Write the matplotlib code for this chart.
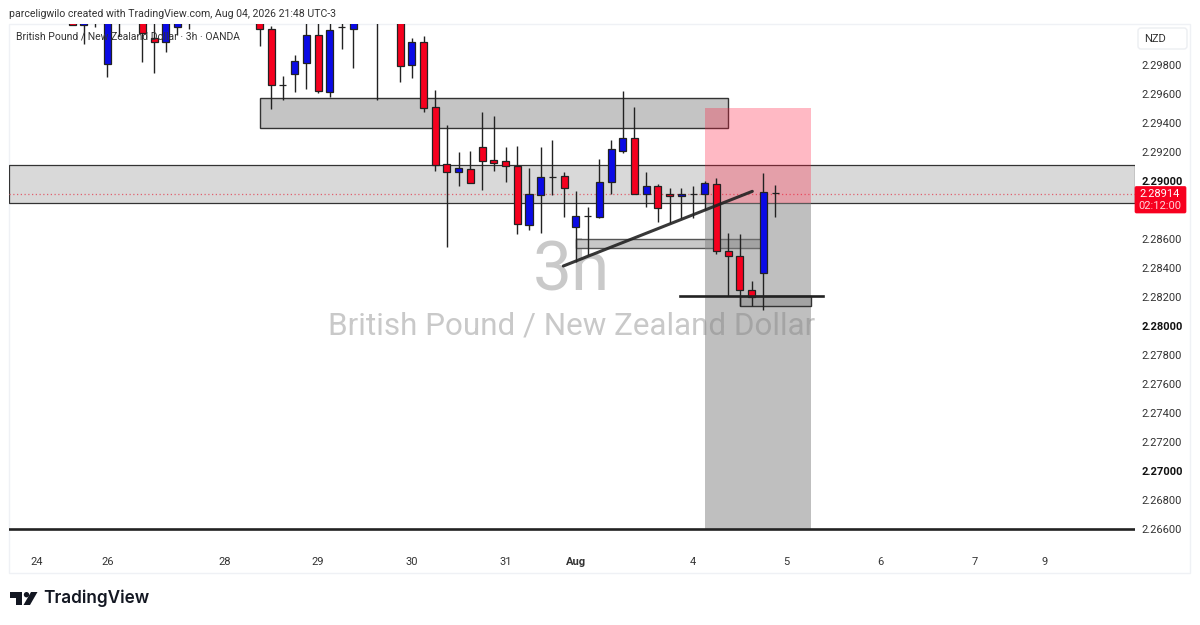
import matplotlib
matplotlib.use("Agg")
import matplotlib.pyplot as plt
from matplotlib.patches import Rectangle, FancyBboxPatch, Circle, Polygon

plt.rcParams["font.family"] = ["Roboto", "DejaVu Sans"]

# bar number, 3h candles (bars above the visible window are left out)
bar_x = [0, 1, 2, 3, 4, 6, 7, 8, 9, 10,
         16, 17, 18, 19, 20, 21, 22, 23, 24, 26,
         28, 29, 30, 31, 32, 33, 34, 35, 36, 37,
         38, 39, 40, 41, 42, 43, 44, 45, 46, 47,
         48, 49, 50, 51, 52, 53, 54, 55, 56, 57,
         58, 59, 60]
opens = [2.30100, 2.30076, 2.30110, 2.29807, 2.30100, 2.30200, 2.29986, 2.29959, 2.30062, 2.30120,
         2.30200, 2.30048, 2.29664, 2.29740, 2.29812, 2.30007, 2.29614, 2.30062, 2.30046, 2.30120,
         2.30200, 2.29802, 2.29957, 2.29512, 2.29119, 2.29064, 2.29085, 2.29232, 2.29143, 2.29136,
         2.29106, 2.28699, 2.28906, 2.29030, 2.29032, 2.28683, 2.28757, 2.28754, 2.28995, 2.29209,
         2.29297, 2.28912, 2.28966, 2.28912, 2.28895, 2.28912, 2.28910, 2.28977, 2.28515, 2.28485,
         2.28250, 2.28368, 2.28919]
highs = [2.30120, 2.30120, 2.30120, 2.30250, 2.30200, 2.30250, 2.30120, 2.30200, 2.30200, 2.30200,
         2.30250, 2.30067, 2.29724, 2.29869, 2.30150, 2.30150, 2.30150, 2.30150, 2.30200, 2.30200,
         2.30250, 2.29984, 2.30002, 2.29628, 2.29388, 2.29198, 2.29207, 2.29474, 2.29448, 2.29232,
         2.29239, 2.29088, 2.29232, 2.29281, 2.29060, 2.28929, 2.28819, 2.29154, 2.29285, 2.29623,
         2.29508, 2.29062, 2.28977, 2.28950, 2.28950, 2.28968, 2.29002, 2.29019, 2.28643, 2.28632,
         2.28312, 2.29053, 2.28972]
lows = [2.30076, 2.29945, 2.30062, 2.29717, 2.30000, 2.29821, 2.29745, 2.29890, 2.30007, 2.30048,
        2.29933, 2.29497, 2.29559, 2.29616, 2.29637, 2.29605, 2.29581, 2.29908, 2.29777, 2.29559,
        2.29685, 2.29708, 2.29478, 2.29071, 2.28547, 2.28968, 2.28984, 2.28938, 2.29071, 2.28995,
        2.28632, 2.28662, 2.28639, 2.28903, 2.28754, 2.28443, 2.28490, 2.28747, 2.28910, 2.29191,
        2.28910, 2.28819, 2.28719, 2.28708, 2.28743, 2.28743, 2.28800, 2.28495, 2.28207, 2.28140,
        2.28140, 2.28110, 2.28754]
closes = [2.30076, 2.30100, 2.30105, 2.30200, 2.30150, 2.30021, 2.29959, 2.30150, 2.30150, 2.30130,
          2.30050, 2.29662, 2.29664, 2.29826, 2.30007, 2.29621, 2.30042, 2.30062, 2.30120, 2.30130,
          2.29795, 2.29957, 2.29506, 2.29112, 2.29060, 2.29088, 2.28988, 2.29140, 2.29126, 2.29104,
          2.28701, 2.28910, 2.29026, 2.29030, 2.28952, 2.28757, 2.28757, 2.28995, 2.29219, 2.29297,
          2.28910, 2.28963, 2.28816, 2.28895, 2.28908, 2.28912, 2.28984, 2.28515, 2.28483, 2.28250,
          2.28200, 2.28924, 2.28919]

# price axis
price_ticks = [2.298, 2.296, 2.294, 2.292, 2.290, 2.286, 2.284, 2.282, 2.280,
               2.278, 2.276, 2.274, 2.272, 2.270, 2.268, 2.266]
bold_ticks = [2.290, 2.280, 2.270]

# time axis
time_ticks = [-3, 3, 13, 21, 29, 37, 43, 53, 61, 69, 77, 83]
time_labels = ["24", "26", "28", "29", "30", "31", "Aug", "4", "5", "6", "7", "9"]

last_price = 2.28914

RED = "#f5001e"
BLUE = "#0a0ae6"
DARK = "#222222"

fig = plt.figure(figsize=(12, 6.25), dpi=100, facecolor="white")

# page layer in pixels, for frame, tag and logo
page = fig.add_axes([0, 0, 1, 1], zorder=0)
page.set_xlim(0, 1200)
page.set_ylim(625, 0)
page.axis("off")
page.add_patch(Rectangle((9, 23.5), 1181, 549, fc="white", ec="#eff1f5", lw=1))

ax = fig.add_axes([9 / 1200, 1 - 545 / 625, 1126 / 1200, 521 / 625], zorder=1)
ax.patch.set_alpha(0)
ax.set_xlim(-5.38, 90.72)
ax.set_ylim(2.26490, 2.30083)
for s in ax.spines.values():
    s.set_visible(False)

# watermark
ax.text(42.6, 2.28380, "3h", fontsize=50, color="#c9c9c9", ha="center", va="center", zorder=1)
ax.text(42.6, 2.28000, "British Pound / New Zealand Dollar", fontsize=22.6, color="#c9c9c9",
        ha="center", va="center", zorder=1)

# drawings under the candles
ax.axhspan(2.28848, 2.29110, fc="#d9d9d9", ec="#333333", lw=0.9, zorder=2)
ax.add_patch(Rectangle((16, 2.29366), 40, 0.00206, fc="#c4c4c4", ec="#333333", lw=1.0, zorder=2))
ax.add_patch(Rectangle((43, 2.28536), 16, 0.00062, fc="#c8c8c8", ec="#555555", lw=1, zorder=2))
ax.axhline(last_price, color="#e0606e", lw=0.9, ls=(0, (1, 2)), zorder=2.5)

# short position tool
ax.add_patch(Rectangle((54, 2.28848), 9.07, 0.00656, fc="#ff1a3c", alpha=0.3, lw=0, zorder=3))
ax.add_patch(Rectangle((54, 2.26600), 9.07, 0.02248, fc="#808080", alpha=0.5, lw=0, zorder=3))
ax.add_patch(Rectangle((57, 2.28140), 6.07, 0.00067, fc="#a3a3a3", ec="#333333", lw=1, zorder=3.5))

# candles
ax.vlines(bar_x, lows, highs, color=DARK, lw=1.0, zorder=4)
bottoms = [min(o, c) for o, c in zip(opens, closes)]
heights = [abs(o - c) for o, c in zip(opens, closes)]
colors = [BLUE if c > o else RED for o, c in zip(opens, closes)]
ax.bar(bar_x, heights, bottom=bottoms, width=0.6, color=colors, edgecolor=DARK, lw=0.9, zorder=5)

# lines over the candles
ax.axhline(2.26600, color=DARK, lw=1.9, zorder=6)
ax.plot([51.9, 64.1], [2.28207, 2.28207], color=DARK, lw=1.9, zorder=6)
ax.plot([41.93, 58.06], [2.28414, 2.28929], color=DARK, lw=2.2, alpha=0.9,
        solid_capstyle="round", zorder=6)

# axes text
ax.yaxis.tick_right()
ax.set_yticks(price_ticks)
ax.set_yticklabels(["%.5f" % p for p in price_ticks])
for lab, p in zip(ax.get_yticklabels(), price_ticks):
    lab.set_fontsize(8)
    lab.set_color("#333333")
    if p in bold_ticks:
        lab.set_fontweight("bold")
        lab.set_color("#111111")
ax.set_xticks(time_ticks)
ax.set_xticklabels(time_labels)
for lab, name in zip(ax.get_xticklabels(), time_labels):
    lab.set_fontsize(8)
    lab.set_color("#333333")
    if name == "Aug":
        lab.set_fontweight("bold")
ax.tick_params(axis="y", length=0, pad=4.5)
ax.tick_params(axis="x", length=0, pad=8.5)

# header text
fig.text(9 / 1200, 1 - 14 / 625, "parceligwilo created with TradingView.com, Aug 04, 2026 21:48 UTC-3",
         fontsize=7.55, color="#333333", va="center", zorder=8)
fig.text(16 / 1200, 1 - 37 / 625, "British Pound / New Zealand Dollar · 3h · OANDA",
         fontsize=7.45, color="#333333", va="center", zorder=8)

# overlay for tag, currency box and logo
top = fig.add_axes([0, 0, 1, 1], zorder=3)
top.set_xlim(0, 1200)
top.set_ylim(625, 0)
top.axis("off")
top.patch.set_alpha(0)
top.add_patch(FancyBboxPatch((1138, 28), 49, 21, boxstyle="round,pad=0,rounding_size=3",
                             fc="white", ec="#eceef2", lw=1))
top.text(1155, 38.5, "NZD", fontsize=8, color="#333333", ha="center", va="center")
top.add_patch(FancyBboxPatch((1135, 186.5), 51, 26.5, boxstyle="round,pad=0,rounding_size=1.5",
                             fc="#f7001f", ec="#f7001f", lw=0.5))
top.text(1160, 194, "%.5f" % last_price, fontsize=8, color="white", ha="center", va="center")
top.text(1160, 206, "02:12:00", fontsize=8, color="#ffd5da", ha="center", va="center")

# logo
top.add_patch(Polygon([(10, 592), (22, 592), (22, 605), (16, 605), (16, 597.5), (10, 597.5)],
                      fc="#131722", lw=0))
top.add_patch(Circle((26.5, 594.7), 2.7, fc="#131722", lw=0))
top.add_patch(Polygon([(31, 592), (37.5, 592), (30, 605), (23.5, 605)], fc="#131722", lw=0))
top.text(43, 598.5, "TradingView", family=["Inter", "DejaVu Sans"], fontsize=12.4,
         fontweight="semibold", color="#131722", va="center")

fig.savefig("out.png", dpi=100)
